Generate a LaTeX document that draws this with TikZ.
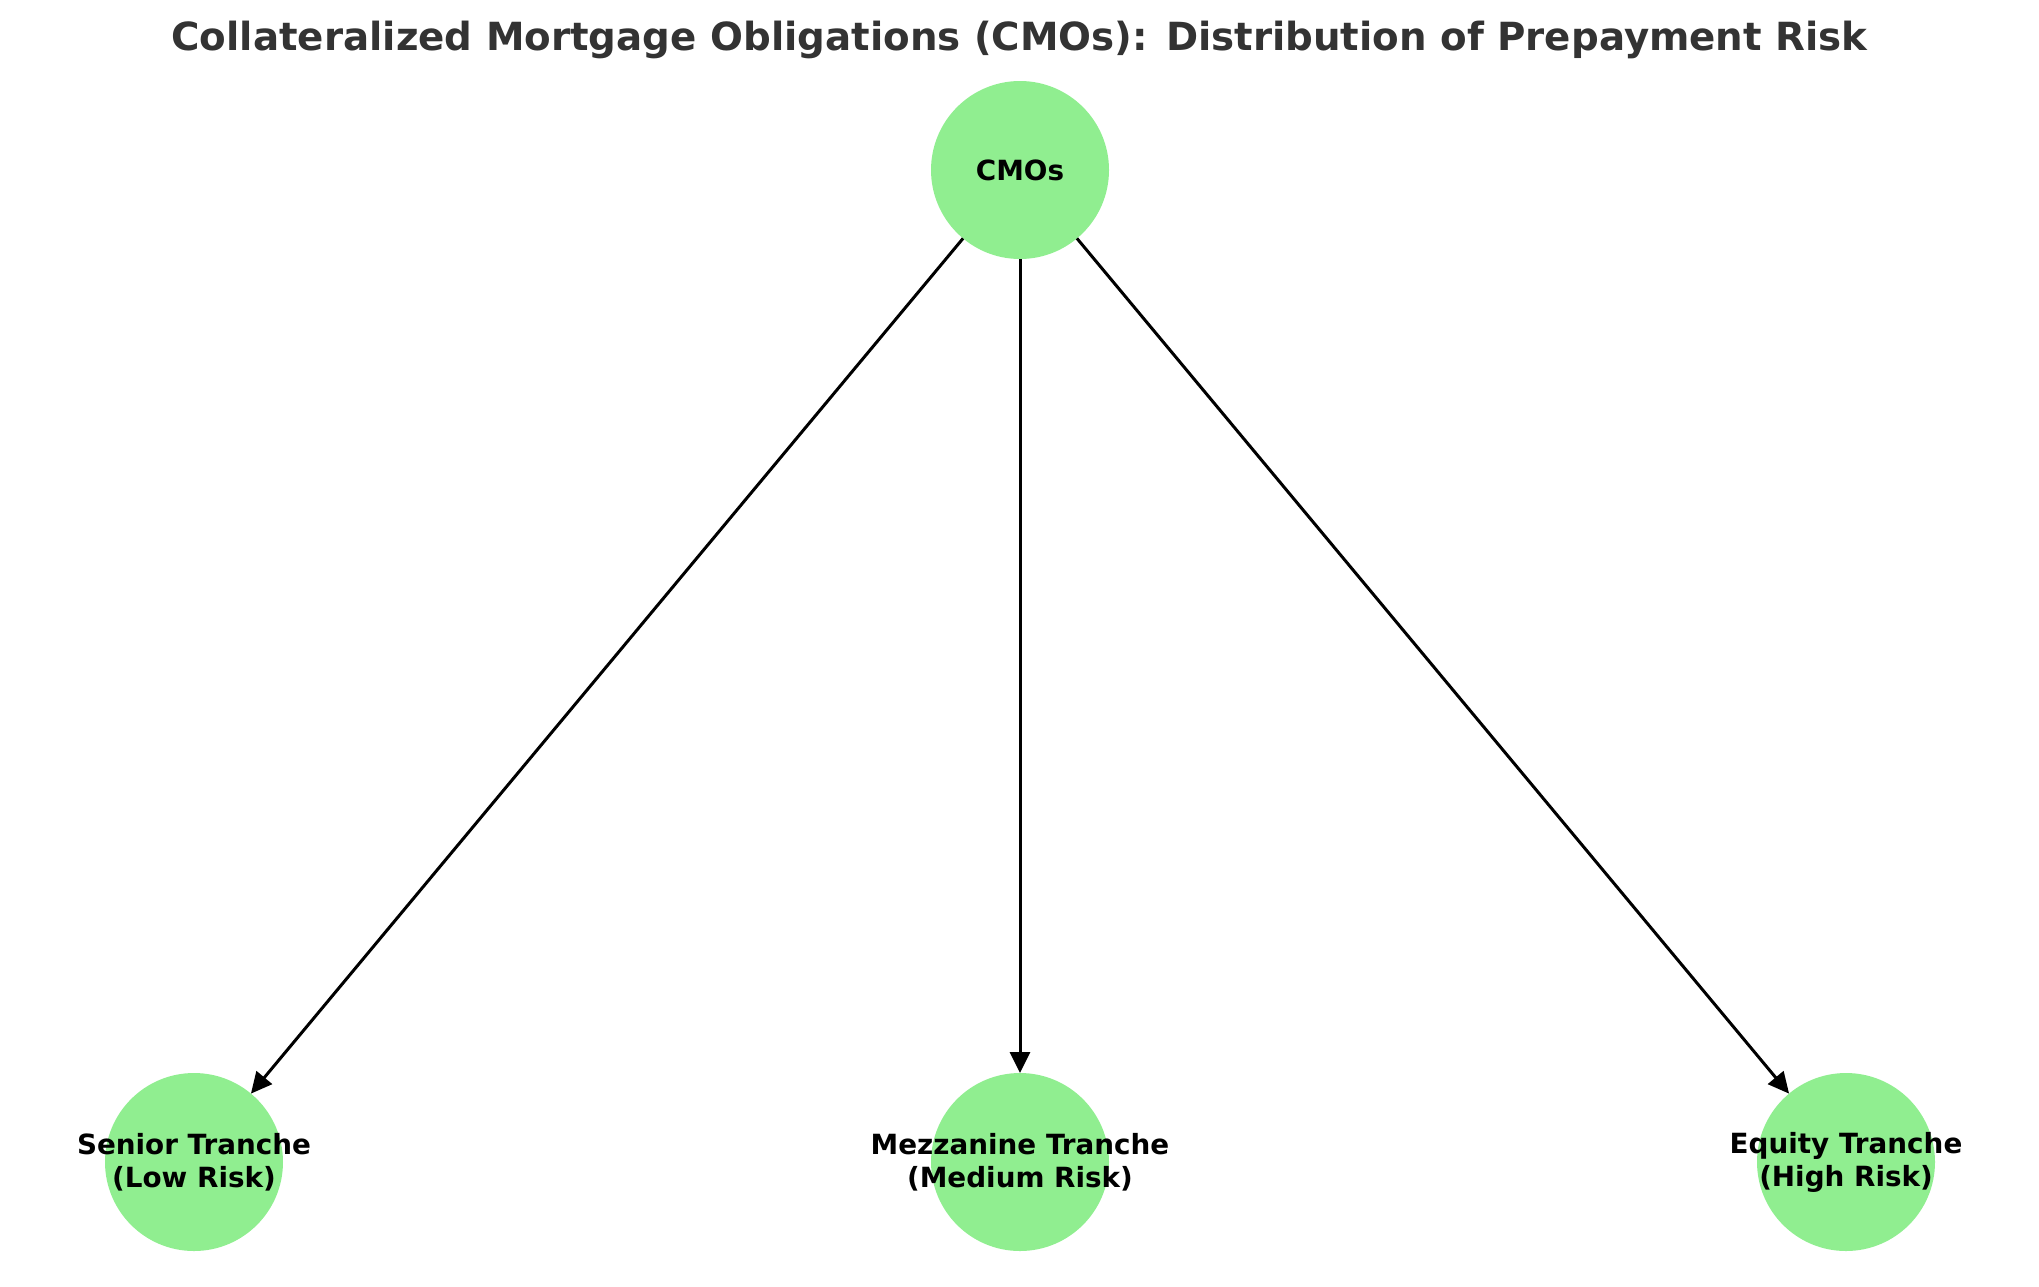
\documentclass[tikz,border=0pt]{standalone}
\usepackage{fontspec}
\setmainfont{DejaVu Sans}
\usetikzlibrary{arrows.meta}
\definecolor{nodegreen}{HTML}{90EE90}
\definecolor{titlegray}{HTML}{333333}
\tikzset{
  cmonode/.style={circle, fill=nodegreen, draw=none, minimum size=89pt, inner sep=0pt, outer sep=0pt},
  cmolabel/.style={align=center, font=\fontsize{13.9pt}{16.5pt}\selectfont\bfseries, text=black, inner sep=0pt},
  cmoarrow/.style={draw=black, line width=1.5pt, -{Triangle[length=10.5pt,width=10pt]}, shorten >=0pt}
}
\begin{document}
\begin{tikzpicture}[x=0.5pt,y=-0.5pt]
\useasboundingbox (0,0) rectangle (2039,1286);
\node[font=\fontsize{19.38pt}{23pt}\selectfont\bfseries, text=titlegray, anchor=base, inner sep=0pt] (title) at (1019.5,50) {Collateralized Mortgage Obligations (CMOs): Distribution of Prepayment Risk};
\node[cmonode] (cmo) at (1020,170) {};
\node[cmonode] (sen) at (194,1162) {};
\node[cmonode] (mez) at (1020,1162) {};
\node[cmonode] (equ) at (1846,1162) {};
\node[cmolabel] (cmoT) at (cmo) {CMOs};
\draw[cmoarrow] (cmo) -- (sen);
\draw[cmoarrow] (cmo) -- (mez);
\draw[cmoarrow] (cmo) -- (equ);
\node[cmolabel] (senT) at (sen) {Senior Tranche\\(Low Risk)};
\node[cmolabel] (mezT) at (mez) {Mezzanine Tranche\\(Medium Risk)};
\node[cmolabel] (equT) at (equ) {Equity Tranche\\(High Risk)};
\end{tikzpicture}
\end{document}
